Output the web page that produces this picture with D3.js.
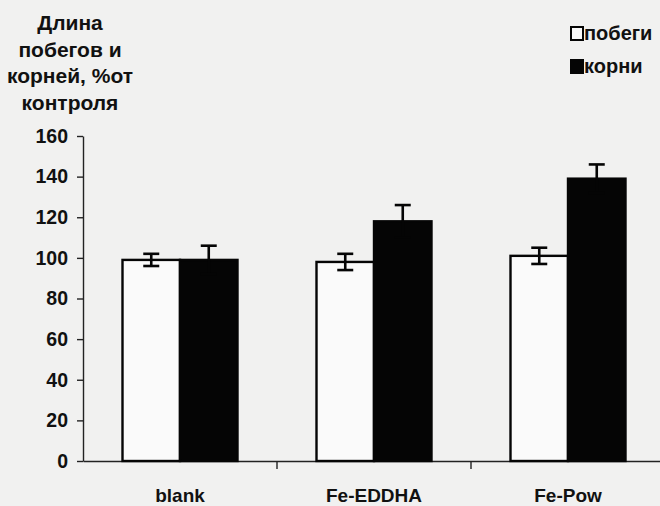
<!DOCTYPE html>
<html>
<head>
<meta charset="utf-8">
<script src="https://cdn.jsdelivr.net/npm/d3@7"></script>
<style>
  body { margin: 0; background: #f1f1f0; }
  svg { display: block; font-family: "Liberation Sans", Arial, sans-serif; }
  .y-axis .tick text { font-size: 19.5px; font-weight: bold; fill: #111; }
  .x-axis .tick text { font-size: 19px; font-weight: bold; fill: #111; }
</style>
</head>
<body>
<svg width="660" height="506"></svg>
<script>
const categories = ["blank", "Fe-EDDHA", "Fe-Pow"];
const seriesNames = ["побеги", "корни"];
const shoots = [99, 98, 101];
const shootErr = [3, 4, 4];
const roots = [99, 118, 139];
const rootErr = [7, 8, 7];
const yTicks = [0, 20, 40, 60, 80, 100, 120, 140, 160];
const titleLines = ["Длина", "побегов и", "корней, %от", "контроля"];

const svg = d3.select("svg");

const x0 = d3.scaleBand().domain(categories).range([83, 665]).padding(0);
const x1 = d3.scaleBand().domain(seriesNames).range([39.5, 154.5]).padding(0);
const y = d3.scaleLinear().domain([0, 160]).range([461, 136]);

// y axis
const yAxisG = svg.append("g")
  .attr("class", "y-axis")
  .attr("transform", "translate(83,0)")
  .call(d3.axisLeft(y).tickValues(yTicks).tickSize(6).tickPadding(9).tickSizeOuter(0));
yAxisG.selectAll("path, line").attr("stroke", "#222").attr("stroke-width", 1.4);

// x axis (labels under the bands, ticks on the band borders)
const xAxisG = svg.append("g")
  .attr("class", "x-axis")
  .attr("transform", `translate(0,${y(0)})`)
  .call(d3.axisBottom(x0).tickSize(0).tickPadding(28).tickSizeOuter(0));
xAxisG.select(".domain").attr("stroke", "#222").attr("stroke-width", 1.6);

xAxisG.selectAll(".border")
  .data(categories.slice(0, -1))
  .join("line")
  .attr("class", "border")
  .attr("x1", (d) => x0(d) + x0.bandwidth())
  .attr("x2", (d) => x0(d) + x0.bandwidth())
  .attr("y1", 0)
  .attr("y2", 8)
  .attr("stroke", "#222")
  .attr("stroke-width", 1.4);

const rows = categories.map((c, i) => ({
  cat: c,
  bars: [
    { s: "побеги", v: shoots[i], e: shootErr[i] },
    { s: "корни", v: roots[i], e: rootErr[i] }
  ]
}));

const groups = svg.selectAll(".grp")
  .data(rows)
  .join("g")
  .attr("class", "grp")
  .attr("transform", (d) => `translate(${x0(d.cat)},0)`);

groups.selectAll("rect")
  .data((d) => d.bars)
  .join("rect")
  .attr("x", (d) => x1(d.s))
  .attr("y", (d) => y(d.v))
  .attr("width", x1.bandwidth())
  .attr("height", (d) => y(0) - y(d.v))
  .attr("fill", (d) => (d.s === "корни" ? "#050505" : "#fafafa"))
  .attr("stroke", "#050505")
  .attr("stroke-width", 2.4);

// error bars
const err = groups.selectAll(".err")
  .data((d) => d.bars)
  .join("g")
  .attr("class", "err")
  .attr("stroke", "#050505")
  .attr("stroke-width", 2.6);

const cx = (d) => x1(d.s) + x1.bandwidth() / 2;
err.append("line")
  .attr("x1", cx).attr("x2", cx)
  .attr("y1", (d) => y(d.v + d.e)).attr("y2", (d) => y(d.v - d.e));
err.append("line")
  .attr("x1", (d) => cx(d) - 8).attr("x2", (d) => cx(d) + 8)
  .attr("y1", (d) => y(d.v + d.e)).attr("y2", (d) => y(d.v + d.e));
err.append("line")
  .attr("x1", (d) => cx(d) - 8).attr("x2", (d) => cx(d) + 8)
  .attr("y1", (d) => y(d.v - d.e)).attr("y2", (d) => y(d.v - d.e));

// title
svg.append("text")
  .attr("x", 70)
  .attr("y", 30)
  .attr("text-anchor", "middle")
  .attr("font-size", 21)
  .attr("font-weight", "bold")
  .attr("fill", "#111")
  .selectAll("tspan")
  .data(titleLines)
  .join("tspan")
  .attr("x", 70)
  .attr("dy", (d, i) => (i === 0 ? 0 : 26.7))
  .text((d) => d);

// legend
const legend = svg.append("g")
  .selectAll("g")
  .data(seriesNames)
  .join("g")
  .attr("transform", (d, i) => `translate(571,${27 + i * 33})`);

legend.append("rect")
  .attr("width", 12)
  .attr("height", 13)
  .attr("fill", (d) => (d === "корни" ? "#050505" : "#fafafa"))
  .attr("stroke", "#050505")
  .attr("stroke-width", 2);

legend.append("text")
  .attr("x", 13)
  .attr("y", 13)
  .attr("font-size", 20)
  .attr("font-weight", "bold")
  .attr("fill", "#111")
  .text((d) => d);
</script>
</body>
</html>
